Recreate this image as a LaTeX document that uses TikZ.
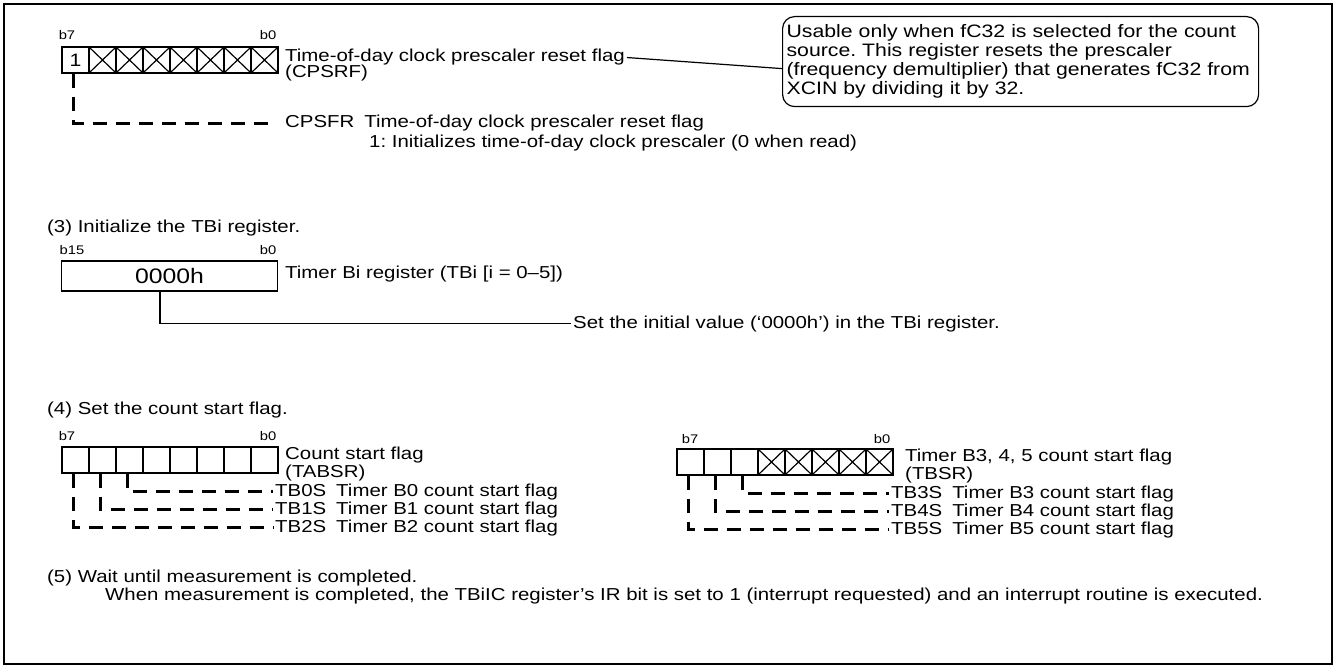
\documentclass[tikz,border=0pt]{standalone}
\usepackage{fontspec}
\setmainfont{Liberation Sans}[FakeStretch=1.18]
\usetikzlibrary{positioning}
\frenchspacing

\tikzset{
    bitcell/.style={
           rectangle,
           draw=black, line width=1.5pt,
           minimum width=27pt, minimum height=26pt,
           inner sep=0pt,
           },
    crossed/.style={
           bitcell,
           path picture={\draw[line width=1.2pt]
              (path picture bounding box.north west) -- (path picture bounding box.south east)
              (path picture bounding box.south west) -- (path picture bounding box.north east);},
           },
    bitlbl/.style={font=\fontsize{12.5}{14}\selectfont, inner sep=0pt, anchor=base},
    txt/.style={font=\fontsize{17.3}{18}\selectfont, inner sep=2pt, anchor=base west},
    leader/.style={draw=black, line width=2.6pt, dash pattern=on 14pt off 9pt},
}

\begin{document}
\begin{tikzpicture}[x=1pt,y=-1pt]

       \useasboundingbox (0,0) rectangle (1335,666);
       \draw[line width=2pt] (4,4) rectangle (1332,664);

       % CPSRF register
       \node[bitlbl] (CPSRFB7) at (67,40) {b7};
       \node[bitlbl] (CPSRFB0) at (268,40) {b0};
       \node[bitcell] (CPSRF7) at (75.5,60) {\fontsize{18}{18}\selectfont 1};
       \foreach \b in {0,...,6}
          \node[crossed] (CPSRF\b) at ({62+27*(7-\b)+13.5},60) {};
       \node[txt] (CPSRFTXT) at (283,62) {Time-of-day clock prescaler reset flag};
       \node[txt] (CPSRFNAME) at (283,78) {(CPSRF)};

       \node[rectangle, draw=black, line width=1.2pt, rounded corners=12pt,
             anchor=north west, text width=468pt, minimum height=90pt,
             align=left, inner sep=4pt, font=\fontsize{18}{19}\selectfont] (NOTE) at (782,16)
       {\mbox{Usable only when fC32 is selected for the count}\\
        \mbox{source. This register resets the prescaler}\\
        \mbox{(frequency demultiplier) that generates fC32 from}\\
        \mbox{XCIN by dividing it by 32.}};
       \coordinate (NOTEIN) at ([yshift=-7pt]NOTE.west);
       \draw[line width=1.2pt] (CPSRFTXT.east) -- (NOTEIN);

       \node[txt] (CPSFRBIT) at (283,128) {CPSFR\hspace{10pt}Time-of-day clock prescaler reset flag};
       \node[txt] (CPSFRVAL) at (367,147) {1: Initializes time-of-day clock prescaler (0 when read)};
       \draw[leader, shorten >=9pt] ([xshift=-2pt]CPSRF7.south) |- (CPSFRBIT.west);

       % (3) TBi register
       \node[txt] (STEP3) at (45,232) {(3) Initialize the TBi register.};
       \node[bitlbl] (TBIB15) at (72,254) {b15};
       \node[bitlbl] (TBIB0) at (268,254) {b0};
       \node[bitcell, minimum width=216pt, minimum height=30pt, font=\fontsize{21}{21}\selectfont] (TBI) at (169.5,276) {0000h};
       \node[txt] (TBITXT) at (283,278) {Timer Bi register (TBi [i = 0--5])};
       \node[txt] (SETTXT) at (571,328) {Set the initial value (`0000h') in the TBi register.};
       \draw[line width=1.2pt] ([xshift=-9.5pt]TBI.south) |- (SETTXT.west);

       % (4) count start flags
       \node[txt] (STEP4) at (45,414) {(4) Set the count start flag.};

       \node[bitlbl] (TABSRB7) at (67,440) {b7};
       \node[bitlbl] (TABSRB0) at (268,440) {b0};
       \foreach \b in {0,...,7}
          \node[bitcell] (TABSR\b) at ({62+27*(7-\b)+13.5},460) {};
       \node[txt] (TABSRTXT) at (283,459) {Count start flag};
       \node[txt] (TABSRNAME) at (283,477) {(TABSR)};
       \node[txt] (TB0S) at (273,496) {TB0S\hspace{10pt}Timer B0 count start flag};
       \node[txt] (TB1S) at (273,514) {TB1S\hspace{10pt}Timer B1 count start flag};
       \node[txt] (TB2S) at (273,532) {TB2S\hspace{10pt}Timer B2 count start flag};
       \draw[leader] ([xshift=-2pt]TABSR5.south) |- (TB0S.west);
       \draw[leader] ([xshift=-2pt]TABSR6.south) |- (TB1S.west);
       \draw[leader] ([xshift=-2pt]TABSR7.south) |- (TB2S.west);

       \node[bitlbl] (TBSRB7) at (690,443) {b7};
       \node[bitlbl] (TBSRB0) at (882,443) {b0};
       \foreach \b in {5,6,7}
          \node[bitcell] (TBSR\b) at ({677+27*(7-\b)+13.5},462) {};
       \foreach \b in {0,...,4}
          \node[crossed] (TBSR\b) at ({677+27*(7-\b)+13.5},462) {};
       \node[txt] (TBSRTXT) at (903,461) {Timer B3, 4, 5 count start flag};
       \node[txt] (TBSRNAME) at (903,479) {(TBSR)};
       \node[txt] (TB3S) at (889,498) {TB3S\hspace{10pt}Timer B3 count start flag};
       \node[txt] (TB4S) at (889,516) {TB4S\hspace{10pt}Timer B4 count start flag};
       \node[txt] (TB5S) at (889,534) {TB5S\hspace{10pt}Timer B5 count start flag};
       \draw[leader] ([xshift=-2pt]TBSR5.south) |- (TB3S.west);
       \draw[leader] ([xshift=-2pt]TBSR6.south) |- (TB4S.west);
       \draw[leader] ([xshift=-2pt]TBSR7.south) |- (TB5S.west);

       % (5) wait
       \node[txt] (STEP5) at (45,582) {(5) Wait until measurement is completed.};
       \node[txt] (STEP5TXT) at (103,600) {When measurement is completed, the TBiIC register's IR bit is set to 1 (interrupt requested) and an interrupt routine is executed.};

\end{tikzpicture}
\end{document}
